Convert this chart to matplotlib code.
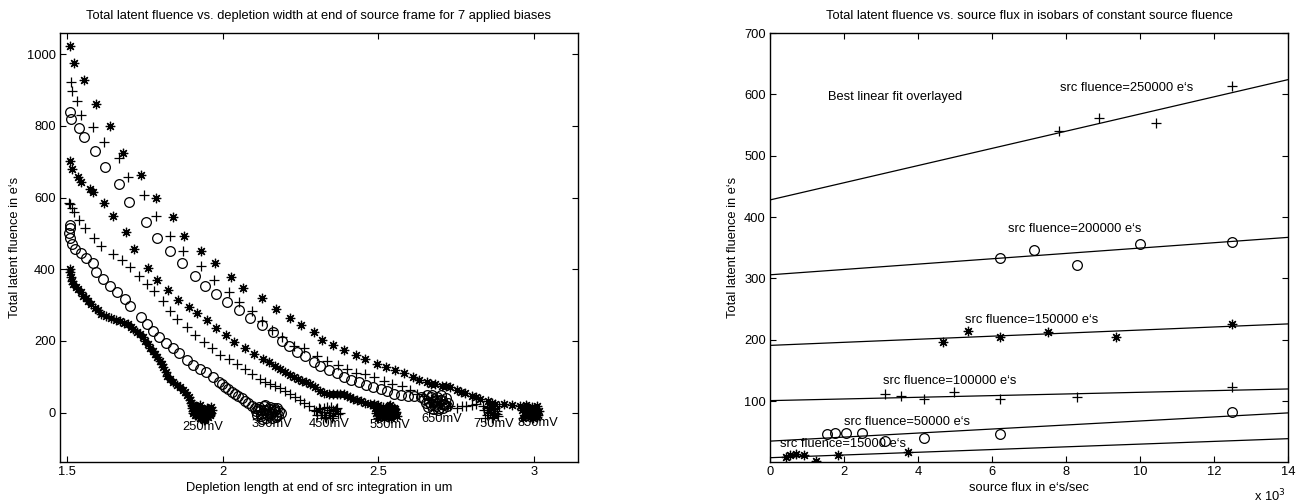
import matplotlib
matplotlib.use("Agg")
from matplotlib import pyplot as plt
import numpy as np

plt.rcParams['font.family'] = ['Liberation Sans', 'DejaVu Sans']

# ---- left panel: latent fluence vs depletion width, one curve per bias ----
bias_labels = ['250mV', '350mV', '450mV', '550mV', '650mV', '750mV', '850mV']
bias_markers = ['*', 'o', '+', '*', 'o', '+', '*']

x250 = [1.510, 1.510, 1.512, 1.515, 1.520, 1.528, 1.536, 1.544, 1.552, 1.560, 1.568, 1.579,
        1.590, 1.600, 1.611, 1.627, 1.643, 1.657, 1.670, 1.683, 1.697, 1.705, 1.713, 1.724,
        1.735, 1.743, 1.751, 1.759, 1.767, 1.775, 1.783, 1.791, 1.799, 1.805, 1.810, 1.817,
        1.823, 1.832, 1.842, 1.853, 1.864, 1.872, 1.880, 1.886, 1.891, 1.895, 1.899, 1.903,
        1.907,
        # end clump
        1.902, 1.910, 1.918, 1.926, 1.934, 1.942, 1.950, 1.958, 1.966, 1.906, 1.914, 1.922,
        1.930, 1.938, 1.946, 1.954, 1.962, 1.904, 1.916, 1.928, 1.940, 1.952, 1.964, 1.944,
        1.912, 1.924, 1.936, 1.948, 1.960, 1.920, 1.932, 1.956]
y250 = [400, 391, 377, 368, 358, 351, 344, 335, 326, 319, 312, 302,
        293, 285, 276, 270, 263, 259, 256, 251, 247, 240, 233, 226,
        219, 210, 200, 190, 181, 172, 163, 154, 144, 135, 126, 114,
        102, 93, 84, 77, 70, 63, 56, 49, 42, 35, 28, 21,
        14,
        12, -8, 16, -14, 6, -18, 14, -4, 8, -2, 18, -10,
        12, -16, 2, -12, 16, 4, -6, 20, -20, 10, -2, 0,
        4, -2, 8, 6, -6, 4, -8, 6]

x350 = [1.509, 1.510, 1.508, 1.510, 1.515, 1.526, 1.547, 1.563, 1.585, 1.595, 1.617, 1.640,
        1.660, 1.686, 1.702, 1.737, 1.756, 1.775, 1.797, 1.818, 1.842, 1.861, 1.885, 1.906,
        1.928, 1.947, 1.969, 1.987, 1.997, 2.008, 2.018, 2.030, 2.040, 2.051, 2.061, 2.072,
        2.083, 2.094, 2.104, 2.115,
        # end clump
        2.108, 2.116, 2.124, 2.132, 2.140, 2.148, 2.156, 2.164, 2.172, 2.180, 2.186, 2.112,
        2.120, 2.128, 2.136, 2.144, 2.152, 2.160, 2.168, 2.176, 2.130, 2.150, 2.170, 2.140,
        2.122, 2.134, 2.146, 2.158, 2.166, 2.178]
y350 = [522, 516, 502, 488, 470, 456, 444, 431, 416, 393, 372, 353,
        335, 316, 298, 267, 247, 228, 211, 195, 181, 165, 146, 132,
        121, 112, 98, 84, 80, 72, 65, 56, 52, 47, 40, 33,
        26, 19, 14, 9,
        5, 15, -10, 18, -15, 10, -5, 14, -12, 3, -2, -6,
        8, -17, 20, -4, 16, -14, 6, 12, 0, 2, -8, 8,
        -4, 6, -8, 2, 4, -6]

x450 = [1.507, 1.510, 1.518, 1.523, 1.540, 1.558, 1.588, 1.609, 1.649, 1.676, 1.703, 1.732,
        1.758, 1.781, 1.808, 1.831, 1.855, 1.885, 1.913, 1.940, 1.965, 1.992, 2.019, 2.045,
        2.072, 2.094, 2.120, 2.135, 2.152, 2.168, 2.184, 2.200, 2.217, 2.233, 2.249, 2.262,
        2.276, 2.292,
        # end clump
        2.300, 2.308, 2.316, 2.324, 2.332, 2.340, 2.348, 2.356, 2.364, 2.372, 2.304, 2.320,
        2.336, 2.352, 2.368, 2.312, 2.328, 2.344, 2.360, 2.376, 2.340, 2.356,
        2.326, 2.346, 2.362]
y450 = [586, 582, 570, 559, 538, 515, 488, 465, 442, 425, 405, 380,
        358, 338, 312, 282, 260, 239, 217, 198, 181, 161, 149, 135,
        121, 107, 93, 86, 79, 74, 68, 60, 51, 44, 35, 28,
        19, 8,
        4, 14, -8, 12, -14, 6, 16, -10, 9, -4, -6, 2,
        16, -15, 12, 10, -12, -2, 4, -2, 0, 8,
        2, -6, 4]

x550 = [1.509, 1.518, 1.536, 1.545, 1.574, 1.585, 1.620, 1.649, 1.690, 1.715, 1.762, 1.791,
        1.826, 1.858, 1.893, 1.919, 1.949, 1.979, 2.010, 2.038, 2.072, 2.102, 2.131, 2.150,
        2.169, 2.185, 2.201, 2.215, 2.228, 2.241, 2.254, 2.268, 2.281, 2.298, 2.314, 2.327,
        2.340, 2.354, 2.367, 2.378, 2.389, 2.400, 2.410, 2.420, 2.431, 2.445, 2.458, 2.472,
        2.485,
        # end clump
        2.490, 2.498, 2.506, 2.514, 2.522, 2.530, 2.538, 2.546, 2.554, 2.560, 2.494, 2.502,
        2.510, 2.518, 2.526, 2.534, 2.542, 2.550, 2.558, 2.500, 2.520, 2.540, 2.530, 2.512,
        2.506, 2.524, 2.544, 2.552]
y550 = [703, 679, 658, 644, 625, 616, 584, 547, 504, 456, 402, 370,
        341, 314, 295, 279, 259, 235, 216, 197, 180, 163, 150, 140,
        130, 121, 112, 105, 98, 93, 88, 84, 79, 70, 60, 55,
        51, 52, 53, 52, 51, 47, 42, 38, 34, 31, 28, 25,
        23,
        12, 20, -6, 16, 5, -12, 22, -2, 10, -10, 0, -8,
        8, -15, 14, 18, -16, 12, 2, -14, 2, -4, 6, -6,
        6, 0, 4, -4]

x650 = [1.509, 1.513, 1.540, 1.554, 1.590, 1.622, 1.668, 1.699, 1.754, 1.788, 1.831, 1.871,
        1.910, 1.943, 1.980, 2.013, 2.053, 2.087, 2.127, 2.162, 2.191, 2.212, 2.239, 2.266,
        2.293, 2.314, 2.341, 2.366, 2.390, 2.412, 2.438, 2.460, 2.484, 2.508, 2.529, 2.551,
        2.572, 2.594, 2.615, 2.637,
        # end clump (sits above zero)
        2.648, 2.656, 2.664, 2.672, 2.680, 2.688, 2.696, 2.704, 2.712, 2.720, 2.652, 2.660,
        2.668, 2.676, 2.684, 2.692, 2.700, 2.708, 2.716, 2.724, 2.670, 2.690, 2.710, 2.680,
        2.674, 2.686, 2.698, 2.706]
y650 = [838, 819, 795, 770, 730, 684, 637, 588, 531, 486, 451, 416,
        380, 352, 330, 309, 286, 265, 245, 224, 200, 186, 170, 158,
        142, 130, 118, 109, 100, 91, 84, 77, 70, 65, 59, 53,
        49, 47, 47, 42,
        38, 48, 30, 50, 22, 42, 14, 36, 25, 18, 26, 16,
        44, 10, 36, 8, 48, 12, 40, 28, 22, 28, 20, 32,
        30, 18, 34, 24]

x750 = [1.512, 1.517, 1.531, 1.547, 1.583, 1.620, 1.666, 1.696, 1.748, 1.786, 1.831, 1.874,
        1.930, 1.974, 2.020, 2.053, 2.093, 2.126, 2.160, 2.191, 2.228, 2.260, 2.303, 2.335,
        2.369, 2.399, 2.429, 2.458, 2.487, 2.517, 2.544, 2.576, 2.603, 2.624, 2.645, 2.670,
        2.700, 2.729, 2.751, 2.770, 2.783, 2.800, 2.815, 2.836,
        # end clump
        2.840, 2.848, 2.856, 2.864, 2.872, 2.880, 2.888, 2.844, 2.852, 2.860, 2.868, 2.876,
        2.884, 2.850, 2.866, 2.882, 2.858, 2.874, 2.862, 2.870]
y750 = [923, 897, 870, 830, 796, 754, 709, 656, 607, 548, 492, 451,
        409, 369, 337, 309, 284, 256, 231, 211, 186, 180, 158, 144,
        132, 121, 109, 107, 98, 88, 81, 74, 62, 51, 45, 38,
        28, 19, 14, 18, 19, 22, 23, 19,
        8, -6, 15, -12, 10, -4, 18, -14, 2, 6, -8, 14,
        -10, 12, -16, 4, -2, 0, 8, -6]

x850 = [1.510, 1.522, 1.555, 1.593, 1.638, 1.680, 1.738, 1.786, 1.841, 1.876, 1.931, 1.976,
        2.026, 2.066, 2.126, 2.171, 2.217, 2.251, 2.294, 2.319, 2.356, 2.390, 2.429, 2.458,
        2.497, 2.524, 2.554, 2.583, 2.610, 2.632, 2.656, 2.670, 2.683, 2.704, 2.718, 2.731,
        2.752, 2.766, 2.779, 2.801, 2.814, 2.827, 2.851, 2.864, 2.876, 2.903, 2.930, 2.956,
        # end clump
        2.962, 2.970, 2.978, 2.986, 2.994, 3.002, 3.010, 3.015, 2.966, 2.974, 2.982, 2.990,
        2.998, 3.006, 3.014, 2.968, 2.984, 3.000, 2.976, 2.992, 3.008, 2.988, 3.004]
y850 = [1023, 976, 928, 860, 800, 724, 663, 599, 545, 492, 450, 416,
        379, 348, 319, 290, 265, 244, 225, 202, 189, 174, 161, 148,
        135, 126, 118, 110, 100, 91, 84, 81, 79, 74, 73, 72,
        63, 58, 54, 46, 42, 37, 31, 28, 25, 23, 21, 19,
        8, -6, 16, -12, 12, -2, 18, 4, -16, 20, -10, 2,
        -14, 10, -6, 14, 6, -8, 0, 16, -12, 4, 6]

bias_x = [x250, x350, x450, x550, x650, x750, x850]
bias_y = [y250, y350, y450, y550, y650, y750, y850]
label_x = [1.937, 2.160, 2.343, 2.536, 2.705, 2.871, 3.013]
label_y = [-40, -31, -31, -35, -17, -31, -28]

# ---- right panel: isobars of constant source fluence ----
iso_labels = ['src fluence=250000 e\u2018s', 'src fluence=200000 e\u2018s',
              'src fluence=150000 e\u2018s', 'src fluence=100000 e\u2018s',
              'src fluence=50000 e\u2018s', 'src fluence=15000 e\u2018s']
iso_markers = ['+', 'o', '*', '+', 'o', '*']
flux_250k = [7800, 8900, 10420, 12480]
lat_250k = [541, 562, 553, 613]
flux_200k = [6220, 7130, 8310, 9990, 12480]
lat_200k = [334, 347, 322, 357, 360]
flux_150k = [4670, 5340, 6220, 7500, 9350, 12480]
lat_150k = [197, 215, 204, 213, 205, 226]
flux_100k = [3100, 3550, 4150, 4970, 6220, 8310, 12480]
lat_100k = [111, 109, 103, 115, 103, 107, 124]
flux_50k = [1530, 1760, 2060, 2480, 3100, 4150, 6220, 12480]
lat_50k = [47, 49, 48, 48, 35, 40, 47, 83]
flux_15k = [430, 530, 690, 910, 1230, 1850, 3720]
lat_15k = [9, 12, 14, 13, 2, 13, 17]
iso_flux = [flux_250k, flux_200k, flux_150k, flux_100k, flux_50k, flux_15k]
iso_lat = [lat_250k, lat_200k, lat_150k, lat_100k, lat_50k, lat_15k]
# fitted line value at flux 0 and at flux 14000
fit_start = [428, 306, 191, 101, 35, 8]
fit_end = [624, 367, 226, 120, 81, 39]
iso_text_x = [7850, 6440, 5260, 3060, 2010, 270]
iso_text_y = [611, 380, 233, 133, 66, 30]

FS = 9.3


def star(m):
    # MATLAB style asterisk = plus and cross on top of each other
    return (8, 2, 0) if m == '*' else m


def draw_points(ax, xs, ys, m):
    ax.plot(xs, ys, linestyle='none', marker=star(m), color='k', mfc='none',
            markersize=7 if m == 'o' else 6.8, markeredgewidth=0.9)


def style_axes(ax):
    ax.tick_params(direction='in', top=True, right=True, length=4, width=0.8, labelsize=FS, pad=3)
    for s in ax.spines.values():
        s.set_linewidth(1.0)


fig = plt.figure(figsize=(12.99, 5.03), dpi=100)
ax1 = fig.add_axes([60 / 1299, 41 / 503, 518 / 1299, 429 / 503])
ax2 = fig.add_axes([770 / 1299, 41 / 503, 518 / 1299, 429 / 503])

for xs, ys, m in zip(bias_x, bias_y, bias_markers):
    draw_points(ax1, xs, ys, m)
for lab, lx, ly in zip(bias_labels, label_x, label_y):
    ax1.text(lx, ly, lab, ha='center', va='center', fontsize=FS)
ax1.set_xlim(1.478, 3.141)
ax1.set_ylim(-138, 1059)
ax1.set_xticks([1.5, 2, 2.5, 3])
ax1.set_xticklabels(['1.5', '2', '2.5', '3'])
ax1.set_yticks([0, 200, 400, 600, 800, 1000])
ax1.set_title('Total latent fluence vs. depletion width at end of source frame for 7 applied biases',
              fontsize=FS, pad=10)
ax1.set_xlabel('Depletion length at end of src integration in um', fontsize=FS, labelpad=3)
ax1.set_ylabel('Total latent fluence in e\u2018s', fontsize=FS, labelpad=4)
style_axes(ax1)

fx = np.array([0, 14000])
for xs, ys, m, a, b in zip(iso_flux, iso_lat, iso_markers, fit_start, fit_end):
    draw_points(ax2, xs, ys, m)
    ax2.plot(fx, [a, b], color='k', linewidth=0.9)
for lab, tx, ty in zip(iso_labels, iso_text_x, iso_text_y):
    ax2.text(tx, ty, lab, ha='left', va='center', fontsize=FS)
ax2.text(1580, 595, 'Best linear fit overlayed', ha='left', va='center', fontsize=FS)
ax2.set_xlim(0, 14000)
ax2.set_ylim(1, 700)
ax2.set_xticks(np.arange(0, 14001, 2000))
ax2.set_xticklabels([str(v) for v in range(0, 15, 2)])
ax2.set_yticks([100, 200, 300, 400, 500, 600, 700])
ax2.set_title('Total latent fluence vs. source flux in isobars of constant source fluence',
              fontsize=FS, pad=10)
ax2.set_xlabel('source flux in e\u2018s/sec', fontsize=FS, labelpad=3)
ax2.set_ylabel('Total latent fluence in e\u2018s', fontsize=FS, labelpad=4)
style_axes(ax2)
fig.text(1270 / 1299, 1 - 496 / 503, 'x 10$^3$', ha='center', va='center', fontsize=FS)

fig.savefig('out.png', dpi=100)
